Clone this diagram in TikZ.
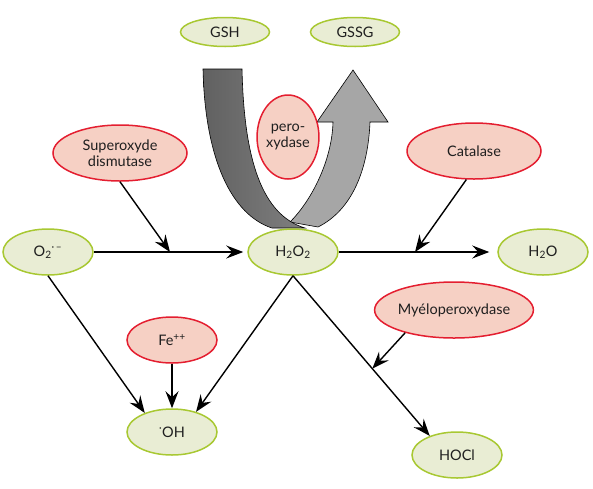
\documentclass[tikz,border=0pt]{standalone}
\usepackage{fontspec}
\setmainfont{Lato}
\usetikzlibrary{shapes.geometric,arrows.meta,calc}
\definecolor{gfill}{RGB}{233,237,212}
\definecolor{gdraw}{RGB}{168,200,50}
\definecolor{rfill}{RGB}{246,208,196}
\definecolor{rdraw}{RGB}{228,30,48}
\begin{document}
\begin{tikzpicture}[x=1pt,y=-1pt,
  every node/.style={font=\fontsize{14.5}{16.5}\selectfont, text=black!88},
  sub/.style={ellipse, draw=gdraw, fill=gfill, line width=1.5pt, inner sep=0pt},
  enz/.style={ellipse, draw=rdraw, fill=rfill, line width=1.5pt, inner sep=0pt, align=center},
  small/.style={minimum width=89pt, minimum height=29pt},
  mid/.style={minimum width=90pt, minimum height=46pt},
  big/.style={minimum width=134pt, minimum height=56pt},
  conn/.style={line width=1.4pt, -{Stealth[length=17pt,width=13pt,inset=6pt]}},
  band/.style={draw=black, line width=0.6pt}]
\useasboundingbox (0,0) rectangle (593,488);

% big curved arrows
\path[band, fill=black!35]
  (290,222) .. controls (312,200) and (332,160) .. (333,122)
  -- (317,122) -- (353,70) -- (388,122) -- (370,122)
  .. controls (368,170) and (352,210) .. (318,227) -- cycle;
\path[band, left color=black!62, right color=black!50]
  (203,69) -- (242,69) .. controls (244,160) and (262,215) .. (305,228)
  -- (272,228) .. controls (232,215) and (205,160) .. (203,69) -- cycle;

% nodes
\node[sub, small] (gsh) at (225,32) {GSH};
\node[sub, small] (gssg) at (355,32) {GSSG};
\node[enz, minimum width=55pt, minimum height=84pt] (perox) at (288,137) {pero-\\xydase};
\node[enz, big] (sod) at (120,153) {Superoxyde\\dismutase};
\node[enz, big] (cat) at (474,151) {Catalase};
\node[sub, mid] (o2) at (48,252) {O\textsubscript{2}\textsuperscript{·\,–}};
\node[sub, mid] (h2o2) at (293,252) {H\textsubscript{2}O\textsubscript{2}};
\node[sub, mid] (h2o) at (543,252) {H\textsubscript{2}O};
\node[enz, big] (myelo) at (454,310) {Myéloperoxydase};
\node[enz, mid] (fe) at (172,340) {Fe\textsuperscript{++}};
\node[sub, mid] (oh) at (172,432) {\textsuperscript{·}OH};
\node[sub, mid] (hocl) at (457,455) {HOCl};

% connectors
\coordinate (m1) at (170,252);
\coordinate (m2) at (415,252);
\draw[conn, shorten >=4pt] (o2) -- (h2o2);
\draw[conn] (sod.south) -- (m1);
\draw[conn, shorten >=8pt] (h2o2) -- (h2o);
\draw[conn] (cat.-105) -- (m2);
\draw[conn] (o2.south) -- (oh.145);
\draw[conn] (h2o2.south) -- (oh.40);
\draw[conn] (fe.south) -- (oh.north);
\draw[conn] (h2o2.south) -- (hocl.145);
\coordinate (m3) at ($(h2o2.south)!0.58!(hocl.145)$);
\draw[conn] (myelo.-155) -- (m3);
\end{tikzpicture}
\end{document}
